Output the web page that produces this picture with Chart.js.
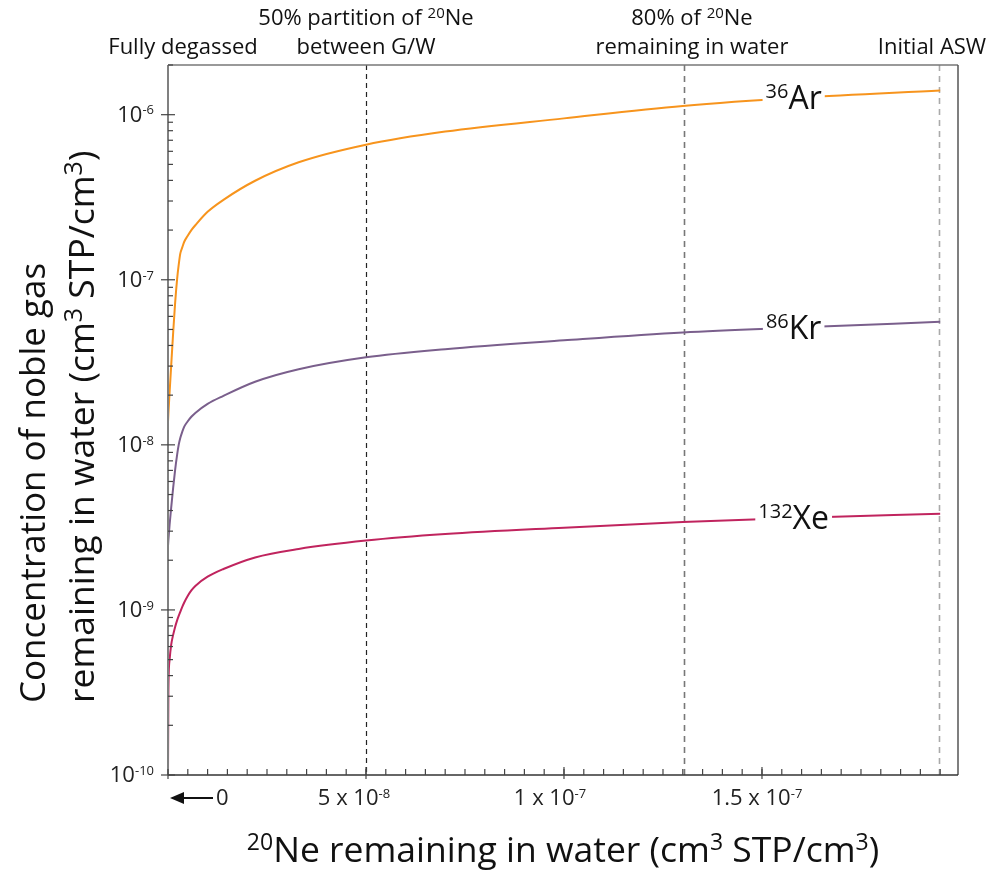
<!DOCTYPE html>
<html>
<head>
<meta charset="utf-8">
<script src="https://cdn.jsdelivr.net/npm/chart.js@4.4.1/dist/chart.umd.min.js"></script>
<style>
  body { margin: 0; background: #fff; }
  #wrap { width: 993px; height: 873px; }
</style>
</head>
<body>
<div id="wrap"><canvas id="chart" width="993" height="873"></canvas></div>
<script>
// 20Ne remaining in water (cm3 STP/cm3)
const neRemaining = [0, 1e-10, 4e-10, 8e-10, 1.3e-9, 1.8e-9, 2.3e-9, 2.7e-9, 3.1e-9, 3.6e-9, 4.1e-9, 4.9e-9, 5.9e-9, 6.9e-9, 1e-8, 1.4e-8, 2.2e-8, 3.3e-8, 5e-8, 7e-8, 1e-7, 1.3e-7, 1.6e-7, 1.95e-7];

// noble gas remaining in water (cm3 STP/cm3)
const ar36 = [1.38e-8, 1.55e-8, 2.07e-8, 3.01e-8, 4.77e-8, 7.25e-8, 1.01e-7, 1.23e-7, 1.44e-7, 1.57e-7, 1.70e-7, 1.835e-7, 2.0e-7, 2.14e-7, 2.58e-7, 3.05e-7, 3.98e-7, 5.15e-7, 6.58e-7, 7.9e-7, 9.5e-7, 1.13e-6, 1.27e-6, 1.40e-6];
const kr86 = [2.44e-9, 2.65e-9, 3.27e-9, 4.15e-9, 5.49e-9, 7.06e-9, 8.7e-9, 1.0e-8, 1.1e-8, 1.2e-8, 1.29e-8, 1.38e-8, 1.48e-8, 1.56e-8, 1.77e-8, 1.98e-8, 2.41e-8, 2.87e-8, 3.39e-8, 3.8e-8, 4.3e-8, 4.8e-8, 5.15e-8, 5.56e-8];
const xe132 = [1.0e-10, 3.2e-10, 4.98e-10, 6.14e-10, 7.06e-10, 7.89e-10, 8.64e-10, 9.2e-10, 9.72e-10, 1.043e-9, 1.11e-9, 1.207e-9, 1.313e-9, 1.398e-9, 1.59e-9, 1.77e-9, 2.08e-9, 2.34e-9, 2.63e-9, 2.88e-9, 3.15e-9, 3.41e-9, 3.62e-9, 3.82e-9];

const gasNames = [["36", "Ar"], ["86", "Kr"], ["132", "Xe"]];
const gasColors = ["#f7941d", "#7a5f8c", "#c0245e"];

// axis ticks
const yDecades = [-10, -9, -8, -7, -6];
const xTickValues = [0, 5e-8, 1e-7, 1.5e-7];
const xTickText = [["0", ""], ["5 x 10", "-8"], ["1 x 10", "-7"], ["1.5 x 10", "-7"]];

// reference lines along the top
const markerValues = [0, 5e-8, 1.303e-7, 1.947e-7];
const markerText = [
  [[], [["Fully degassed"]]],
  [[["50% partition of "], ["20", 1], ["Ne"]], [["between G/W"]]],
  [[["80% of "], ["20", 1], ["Ne"]], [["remaining in water"]]],
  [[], [["Initial ASW"]]],
];

const FONT = '"Open Sans", "Noto Sans", sans-serif';

// draws text pieces, sup ones raised and smaller
function drawParts(ctx, parts, x, y, size, align, supRatio) {
  const supSize = Math.round(size * (supRatio || 0.62));
  let w = 0;
  const widths = parts.map((p) => {
    ctx.font = (p[1] ? supSize : size) + "px " + FONT;
    const pw = ctx.measureText(p[0]).width;
    w += pw;
    return pw;
  });
  let cx = x;
  if (align === "center") cx = x - w / 2;
  if (align === "right") cx = x - w;
  ctx.textAlign = "left";
  ctx.textBaseline = "alphabetic";
  parts.forEach((p, i) => {
    ctx.font = (p[1] ? supSize : size) + "px " + FONT;
    ctx.fillText(p[0], cx, p[1] ? y - size * 0.33 : y);
    cx += widths[i];
  });
  return w;
}

const decorPlugin = {
  id: "decor",
  beforeDatasetsDraw(chart) {
    const { ctx, chartArea: a, scales } = chart;
    const styles = [null, ["#222", [5, 4], 1.2], ["#777", [6, 5], 1.6], ["#aaa", [6, 5], 1.6]];
    ctx.save();
    markerValues.forEach((v, i) => {
      if (!styles[i]) return;
      const px = Math.round(scales.x.getPixelForValue(v)) + 0.5;
      ctx.strokeStyle = styles[i][0];
      ctx.setLineDash(styles[i][1]);
      ctx.lineWidth = styles[i][2];
      ctx.beginPath();
      ctx.moveTo(px, a.top);
      ctx.lineTo(px, a.bottom);
      ctx.stroke();
    });
    ctx.restore();
  },
  afterDatasetsDraw(chart) {
    const { ctx, chartArea: a, scales } = chart;
    const xs = scales.x, ys = scales.y;
    ctx.save();
    ctx.setLineDash([]);

    // frame
    ctx.lineWidth = 1.5;
    ctx.strokeStyle = "#777";
    ctx.beginPath();
    ctx.moveTo(a.left, a.top);
    ctx.lineTo(a.right, a.top);
    ctx.stroke();
    ctx.strokeStyle = "#555";
    ctx.beginPath();
    ctx.moveTo(a.right, a.top);
    ctx.lineTo(a.right, a.bottom);
    ctx.stroke();
    ctx.strokeStyle = "#808080";
    ctx.lineWidth = 2;
    ctx.beginPath();
    ctx.moveTo(a.left, a.top);
    ctx.lineTo(a.left, a.bottom);
    ctx.stroke();
    ctx.strokeStyle = "#333";
    ctx.lineWidth = 1.5;
    ctx.beginPath();
    ctx.moveTo(a.left, a.bottom);
    ctx.lineTo(a.right, a.bottom);
    ctx.stroke();

    // y ticks
    ctx.strokeStyle = "#444";
    ctx.lineWidth = 1.2;
    yDecades.forEach((d) => {
      for (let m = 1; m <= 9; m++) {
        const v = m * Math.pow(10, d);
        if (v > ys.max) break;
        const py = ys.getPixelForValue(v);
        ctx.beginPath();
        ctx.moveTo(m === 1 ? a.left - 7 : a.left, py);
        ctx.lineTo(m === 1 ? a.left + 7 : a.left + 5, py);
        ctx.stroke();
      }
      ctx.fillStyle = "#222";
      drawParts(ctx, [["10"], [String(d), 1]], a.left - 14, ys.getPixelForValue(Math.pow(10, d)) + 7, 22, "right", 0.6);
    });

    // x ticks
    for (let v = 0; v <= xs.max; v += 5e-9) {
      const px = xs.getPixelForValue(v);
      ctx.beginPath();
      ctx.moveTo(px, a.bottom);
      ctx.lineTo(px, a.bottom - 6);
      ctx.stroke();
    }
    const labelShift = [0, -12, -14, -5];
    xTickValues.forEach((v, i) => {
      const px = xs.getPixelForValue(v);
      ctx.beginPath();
      ctx.moveTo(px, a.bottom - (v === 0 ? 0 : 8));
      ctx.lineTo(px, a.bottom + 4);
      ctx.stroke();
      if (v === 0) {
        // arrow pointing toward zero
        ctx.strokeStyle = "#111";
        ctx.lineWidth = 2;
        ctx.beginPath();
        ctx.moveTo(px + 10, a.bottom + 23);
        ctx.lineTo(px + 45, a.bottom + 23);
        ctx.stroke();
        ctx.fillStyle = "#111";
        ctx.beginPath();
        ctx.moveTo(px + 2, a.bottom + 23);
        ctx.lineTo(px + 16, a.bottom + 17);
        ctx.lineTo(px + 16, a.bottom + 29);
        ctx.closePath();
        ctx.fill();
        ctx.fillStyle = "#222";
        drawParts(ctx, [["0"]], px + 48, a.bottom + 30, 22, "left");
        ctx.strokeStyle = "#444";
        ctx.lineWidth = 1.2;
      } else {
        ctx.fillStyle = "#222";
        drawParts(ctx, [[xTickText[i][0]], [xTickText[i][1], 1]], px + labelShift[i], a.bottom + 30, 22, "center", 0.6);
      }
    });

    // top labels
    const offsets = [15, 0, 8, -7];
    ctx.fillStyle = "#111";
    markerValues.forEach((v, i) => {
      const px = xs.getPixelForValue(v) + offsets[i];
      const [l1, l2] = markerText[i];
      if (l1.length) drawParts(ctx, l1, px, 25, 22, "center", 0.68);
      drawParts(ctx, l2, px, 54, 22, "center");
    });

    // curve labels with a white gap
    const labelAt = 1.58e-7;
    chart.data.datasets.forEach((ds, di) => {
      const pts = chart.getDatasetMeta(di).data;
      const lx = xs.getPixelForValue(labelAt);
      let ly = pts[pts.length - 1].y;
      for (let k = 1; k < pts.length; k++) {
        if (pts[k].x >= lx) {
          const t = (lx - pts[k - 1].x) / (pts[k].x - pts[k - 1].x);
          ly = pts[k - 1].y + t * (pts[k].y - pts[k - 1].y);
          break;
        }
      }
      const parts = [[gasNames[di][0], 1], [gasNames[di][1]]];
      ctx.font = "20px " + FONT;
      const w1 = ctx.measureText(parts[0][0]).width;
      ctx.font = "32px " + FONT;
      const w2 = ctx.measureText(parts[1][0]).width;
      const x0 = lx - (w1 + w2) / 2;
      ctx.fillStyle = "#fff";
      ctx.fillRect(x0 - 3, ly - 8, w1 + w2 + 6, 16);
      ctx.fillStyle = "#111";
      ctx.font = "20px " + FONT;
      ctx.fillText(parts[0][0], x0, ly);
      ctx.font = "32px " + FONT;
      ctx.fillText(parts[1][0], x0 + w1, ly + 11);
    });

    // axis titles
    ctx.fillStyle = "#111";
    drawParts(ctx, [["20", 1], ["Ne remaining in water (cm"], ["3", 1], [" STP/cm"], ["3", 1], [")"]], (a.left + a.right) / 2, 862, 35.5, "center", 0.66);
    ctx.save();
    ctx.translate(0, 703);
    ctx.rotate(-Math.PI / 2);
    drawParts(ctx, [["Concentration of noble gas"]], 0, 45, 35, "left");
    drawParts(ctx, [["remaining in water (cm"], ["3", 1], [" STP/cm"], ["3", 1], [")"]], 0, 94, 35.5, "left", 0.7);
    ctx.restore();

    ctx.restore();
  },
};

const ctx = document.getElementById("chart").getContext("2d");
const seriesValues = [ar36, kr86, xe132];
new Chart(ctx, {
  type: "line",
  data: {
    datasets: seriesValues.map((vals, i) => ({
      label: gasNames[i].join(""),
      data: neRemaining.map((x, k) => ({ x: x, y: vals[k] })),
      borderColor: gasColors[i],
      borderWidth: 2,
      pointRadius: 0,
      fill: false,
      cubicInterpolationMode: "monotone",
    })),
  },
  options: {
    responsive: false,
    animation: false,
    layout: { padding: { left: 168, top: 65, right: 35, bottom: 98 } },
    plugins: { legend: { display: false }, tooltip: { enabled: false } },
    scales: {
      x: { type: "linear", min: 0, max: 1.995e-7, display: false },
      y: { type: "logarithmic", min: 1e-10, max: 2e-6, display: false },
    },
  },
  plugins: [decorPlugin],
});
</script>
</body>
</html>
